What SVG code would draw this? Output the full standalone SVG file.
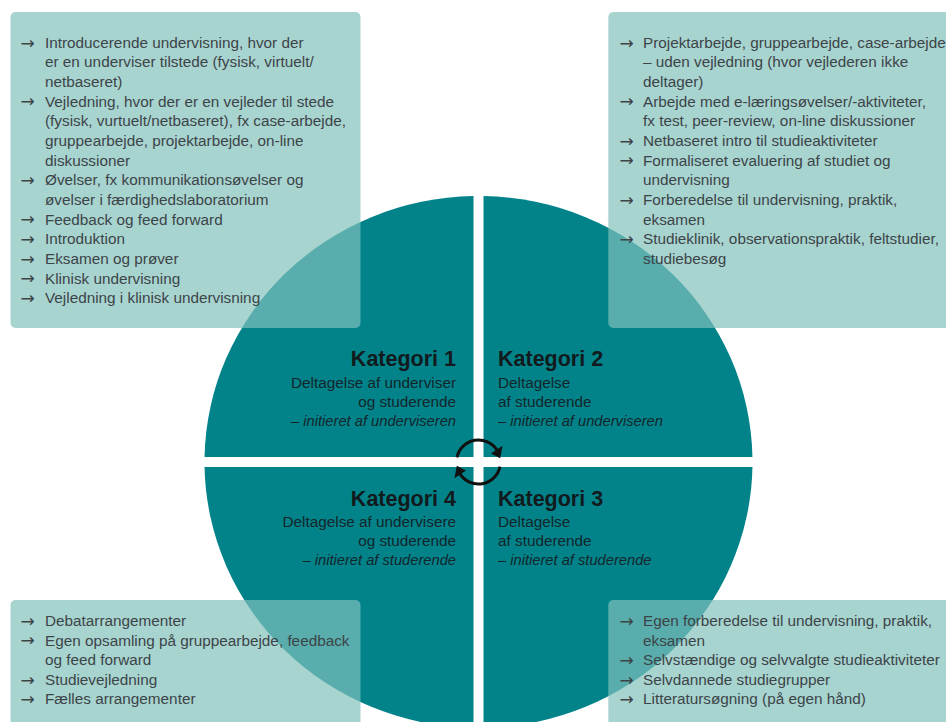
<svg xmlns="http://www.w3.org/2000/svg" width="946" height="722" viewBox="0 0 946 722">
<style>
.q{fill:#02838a}
.box{fill:#81c1bb;fill-opacity:0.69}
.li{font-family:"Liberation Sans",Arial,sans-serif;font-size:15.3px;fill:#3c4448}
.ar{font-family:"DejaVu Sans",sans-serif;font-size:17px;fill:#3c4448}
.kt{font-family:"Liberation Sans",Arial,sans-serif;font-size:21.5px;font-weight:bold;fill:#111a1c}
.ks{font-family:"Liberation Sans",Arial,sans-serif;font-size:15.3px;fill:#13262a}
.ki{font-family:"Liberation Sans",Arial,sans-serif;font-size:14.7px;font-style:italic;fill:#13262a}
.cyc{fill:none;stroke:#111;stroke-width:3}
.head{fill:#111}
</style>
<rect width="946" height="722" fill="#ffffff"/>

<g id="kategori-1">
<path class="q" d="M473.5,457 L204.55,457 A274,266 0 0 1 473.5,196.04 Z"/>
<text class="kt" x="456" y="366" text-anchor="end">Kategori 1</text>
<text class="ks" x="456" y="388" text-anchor="end">Deltagelse af underviser</text>
<text class="ks" x="456" y="407.3" text-anchor="end">og studerende</text>
<text class="ki" x="456" y="426" text-anchor="end">– initieret af underviseren</text>
</g>
<g id="kategori-2">
<path class="q" d="M483.5,457 L483.5,196.04 A274,266 0 0 1 752.45,457 Z"/>
<text class="kt" x="498" y="366">Kategori 2</text>
<text class="ks" x="498" y="388">Deltagelse</text>
<text class="ks" x="498" y="407.3">af studerende</text>
<text class="ki" x="498" y="426">– initieret af underviseren</text>
</g>
<g id="kategori-3">
<path class="q" d="M483.5,467 L752.45,467 A274,266 0 0 1 483.5,727.96 Z"/>
<text class="kt" x="498" y="505.5">Kategori 3</text>
<text class="ks" x="498" y="526.5">Deltagelse</text>
<text class="ks" x="498" y="545.5">af studerende</text>
<text class="ki" x="498" y="564.5">– initieret af studerende</text>
</g>
<g id="kategori-4">
<path class="q" d="M473.5,467 L473.5,727.96 A274,266 0 0 1 204.55,467 Z"/>
<text class="kt" x="456" y="505.5" text-anchor="end">Kategori 4</text>
<text class="ks" x="456" y="526.5" text-anchor="end">Deltagelse af undervisere</text>
<text class="ks" x="456" y="545.5" text-anchor="end">og studerende</text>
<text class="ki" x="456" y="564.5" text-anchor="end">– initieret af studerende</text>
</g>

<g id="box-kategori-1">
<rect class="box" x="10.5" y="12" width="350" height="316" rx="5"/>
<g class="ar">
<text x="20.5" y="48.5">→</text>
<text x="20.5" y="107.45">→</text>
<text x="20.5" y="186.05">→</text>
<text x="20.5" y="225.35">→</text>
<text x="20.5" y="245">→</text>
<text x="20.5" y="264.65">→</text>
<text x="20.5" y="284.3">→</text>
<text x="20.5" y="303.95">→</text>
</g>
<text class="li" x="45" y="47.8">Introducerende undervisning, hvor der<tspan x="45" dy="19.65">er en underviser tilstede (fysisk, virtuelt/</tspan><tspan x="45" dy="19.65">netbaseret)</tspan><tspan x="45" dy="19.65">Vejledning, hvor der er en vejleder til stede</tspan><tspan x="45" dy="19.65">(fysisk, vurtuelt/netbaseret), fx case-arbejde,</tspan><tspan x="45" dy="19.65">gruppearbejde, projektarbejde, on-line</tspan><tspan x="45" dy="19.65">diskussioner</tspan><tspan x="45" dy="19.65">Øvelser, fx kommunikationsøvelser og</tspan><tspan x="45" dy="19.65">øvelser i færdighedslaboratorium</tspan><tspan x="45" dy="19.65">Feedback og feed forward</tspan><tspan x="45" dy="19.65">Introduktion</tspan><tspan x="45" dy="19.65">Eksamen og prøver</tspan><tspan x="45" dy="19.65">Klinisk undervisning</tspan><tspan x="45" dy="19.65">Vejledning i klinisk undervisning</tspan></text>
</g>

<g id="box-kategori-2">
<rect class="box" x="608.3" y="12" width="350" height="316" rx="5"/>
<g class="ar">
<text x="619.5" y="48.5">→</text>
<text x="619.5" y="107.45">→</text>
<text x="619.5" y="146.75">→</text>
<text x="619.5" y="166.4">→</text>
<text x="619.5" y="205.7">→</text>
<text x="619.5" y="245">→</text>
</g>
<text class="li" x="643" y="47.8">Projektarbejde, gruppearbejde, case-arbejde<tspan x="643" dy="19.65">– uden vejledning (hvor vejlederen ikke</tspan><tspan x="643" dy="19.65">deltager)</tspan><tspan x="643" dy="19.65">Arbejde med e-læringsøvelser/-aktiviteter,</tspan><tspan x="643" dy="19.65">fx test, peer-review, on-line diskussioner</tspan><tspan x="643" dy="19.65">Netbaseret intro til studieaktiviteter</tspan><tspan x="643" dy="19.65">Formaliseret evaluering af studiet og</tspan><tspan x="643" dy="19.65">undervisning</tspan><tspan x="643" dy="19.65">Forberedelse til undervisning, praktik,</tspan><tspan x="643" dy="19.65">eksamen</tspan><tspan x="643" dy="19.65">Studieklinik, observationspraktik, feltstudier,</tspan><tspan x="643" dy="19.65">studiebesøg</tspan></text>
</g>

<g id="box-kategori-4">
<rect class="box" x="10.5" y="600" width="350" height="140" rx="5"/>
<g class="ar">
<text x="20.5" y="626.7">→</text>
<text x="20.5" y="646.3">→</text>
<text x="20.5" y="685.5">→</text>
<text x="20.5" y="705.1">→</text>
</g>
<text class="li" x="45" y="626">Debatarrangementer<tspan x="45" dy="19.6">Egen opsamling på gruppearbejde, feedback</tspan><tspan x="45" dy="19.6">og feed forward</tspan><tspan x="45" dy="19.6">Studievejledning</tspan><tspan x="45" dy="19.6">Fælles arrangementer</tspan></text>
</g>

<g id="box-kategori-3">
<rect class="box" x="608.3" y="600" width="350" height="140" rx="5"/>
<g class="ar">
<text x="619.5" y="626.7">→</text>
<text x="619.5" y="665.9">→</text>
<text x="619.5" y="685.5">→</text>
<text x="619.5" y="705.1">→</text>
</g>
<text class="li" x="643" y="626">Egen forberedelse til undervisning, praktik,<tspan x="643" dy="19.6">eksamen</tspan><tspan x="643" dy="19.6">Selvstændige og selvvalgte studieaktiviteter</tspan><tspan x="643" dy="19.6">Selvdannede studiegrupper</tspan><tspan x="643" dy="19.6">Litteratursøgning (på egen hånd)</tspan></text>
</g>

<g id="connectors">
<path class="cyc" d="M456.98,457.43 A22,22 0 0 1 497.16,450.34"/>
<polygon class="head" points="490.94,453.61 502.54,445.78 500.17,458.18"/>
<path class="cyc" d="M500.02,466.57 A22,22 0 0 1 459.84,473.66"/>
<polygon class="head" points="466.06,470.39 454.46,478.22 456.83,465.82"/>
</g>
</svg>
